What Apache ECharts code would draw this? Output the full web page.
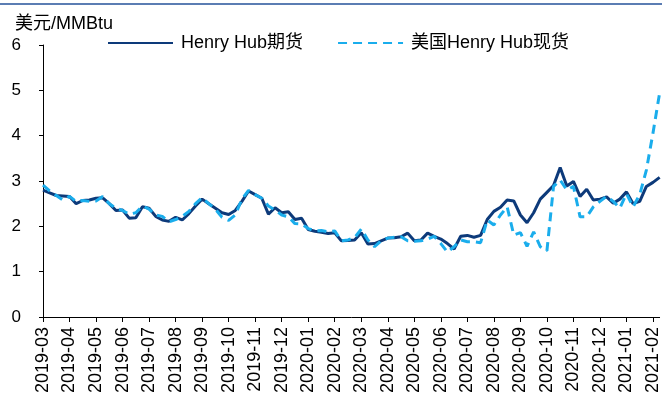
<!DOCTYPE html>
<html>
<head>
<meta charset="utf-8" />
<script src="https://cdn.jsdelivr.net/npm/echarts@6/dist/echarts.min.js"></script>
<style>
  html, body { margin: 0; padding: 0; background: #fff; }
  #chart { width: 662px; height: 415px; }
</style>
</head>
<body>
<div id="chart"></div>
<script>
const months = [
  '2019-03', '2019-04', '2019-05', '2019-06', '2019-07', '2019-08', '2019-09', '2019-10',
  '2019-11', '2019-12', '2020-01', '2020-02', '2020-03', '2020-04', '2020-05', '2020-06',
  '2020-07', '2020-08', '2020-09', '2020-10', '2020-11', '2020-12', '2021-01', '2021-02',
];
const yTicks = [0, 1, 2, 3, 4, 5, 6];

// 周度数据，每月4个点
const futures = [
  2.80, 2.74, 2.68, 2.67, 2.66, 2.50, 2.57, 2.58, 2.62, 2.63,
  2.50, 2.35, 2.36, 2.18, 2.19, 2.43, 2.40, 2.22, 2.14, 2.11,
  2.20, 2.14, 2.28, 2.45, 2.60, 2.50, 2.40, 2.30, 2.26, 2.35,
  2.55, 2.78, 2.70, 2.62, 2.27, 2.41, 2.30, 2.32, 2.15, 2.18,
  1.93, 1.89, 1.87, 1.84, 1.86, 1.68, 1.69, 1.70, 1.86, 1.61,
  1.62, 1.68, 1.74, 1.75, 1.77, 1.85, 1.68, 1.70, 1.85, 1.78,
  1.72, 1.62, 1.50, 1.78, 1.80, 1.76, 1.80, 2.15, 2.33, 2.42,
  2.58, 2.56, 2.25, 2.08, 2.30, 2.60, 2.75, 2.90, 3.30, 2.89,
  2.99, 2.66, 2.82, 2.58, 2.60, 2.65, 2.51, 2.60, 2.76, 2.50,
  2.55, 2.88, 2.97, 3.08,
];
const spot = [
  2.91, 2.78, 2.68, 2.58, 2.66, 2.55, 2.57, 2.55, 2.56, 2.66,
  2.50, 2.40, 2.35, 2.27, 2.30, 2.45, 2.38, 2.25, 2.22, 2.10,
  2.15, 2.22, 2.33, 2.50, 2.63, 2.50, 2.38, 2.20, 2.13, 2.25,
  2.60, 2.79, 2.70, 2.62, 2.45, 2.36, 2.25, 2.21, 2.06, 2.05,
  1.95, 1.90, 1.91, 1.88, 1.90, 1.68, 1.70, 1.75, 1.94, 1.70,
  1.55, 1.68, 1.74, 1.76, 1.77, 1.68, 1.67, 1.68, 1.72, 1.78,
  1.62, 1.43, 1.55, 1.70, 1.66, 1.66, 1.64, 2.14, 2.03, 2.25,
  2.43, 1.81, 1.86, 1.56, 1.88, 1.55, 1.46, 2.88, 3.02, 2.80,
  2.88, 2.21, 2.21, 2.43, 2.55, 2.66, 2.55, 2.40, 2.72, 2.43,
  2.70, 3.24, 4.06, 4.94,
];

const categories = futures.map((_, i) => {
  const m = months[Math.floor(i / 4)] || months[months.length - 1];
  return i % 4 === 0 ? m : m + '/' + (i % 4);
});

const chart = echarts.init(document.getElementById('chart'));
const font = 'Arial, "Liberation Sans", "Noto Sans CJK SC", sans-serif';

const option = {
  animation: false,
  backgroundColor: '#fff',
  textStyle: { fontFamily: font },
  graphic: [
    {
      type: 'line',
      shape: { x1: 0, y1: 4, x2: 662, y2: 4 },
      style: { stroke: '#5b7db3', lineWidth: 2 },
    },
    {
      type: 'text',
      left: 15,
      top: 15,
      style: { text: '美元/MMBtu', fontSize: 18, fill: '#000', fontFamily: font },
    },
  ],
  legend: {
    left: 107,
    top: 34,
    padding: 0,
    itemWidth: 65,
    itemHeight: 16,
    itemGap: 34,
    itemStyle: { opacity: 0 },
    textStyle: { fontSize: 18, color: '#000', padding: [0, 0, 0, 3] },
    data: ['Henry Hub期货', '美国Henry Hub现货'],
  },
  grid: { left: 43, right: 0, top: 45, bottom: 98, containLabel: false },
  xAxis: {
    type: 'category',
    boundaryGap: false,
    data: categories,
    axisLine: { lineStyle: { color: '#000', width: 1 } },
    axisTick: { interval: 3, length: 5, lineStyle: { color: '#000' } },
    axisLabel: { interval: 3, rotate: 90, fontSize: 18, color: '#000', margin: 10 },
    splitLine: { show: false },
  },
  yAxis: {
    type: 'value',
    min: yTicks[0],
    max: yTicks[yTicks.length - 1],
    interval: 1,
    axisLine: { show: true, lineStyle: { color: '#000', width: 1 } },
    axisTick: { show: true, length: 4, lineStyle: { color: '#000' } },
    axisLabel: { fontSize: 17, color: '#000', margin: 22 },
    splitLine: { show: false },
  },
  series: [
    {
      name: 'Henry Hub期货',
      type: 'line',
      symbol: 'none',
      data: futures,
      lineStyle: { color: '#0d3a7a', width: 3 },
      itemStyle: { color: '#0d3a7a' },
    },
    {
      name: '美国Henry Hub现货',
      type: 'line',
      symbol: 'none',
      data: spot,
      lineStyle: { color: '#1aadec', width: 3, type: [9, 6] },
      itemStyle: { color: '#1aadec' },
    },
  ],
};

chart.setOption(option);
</script>
</body>
</html>
